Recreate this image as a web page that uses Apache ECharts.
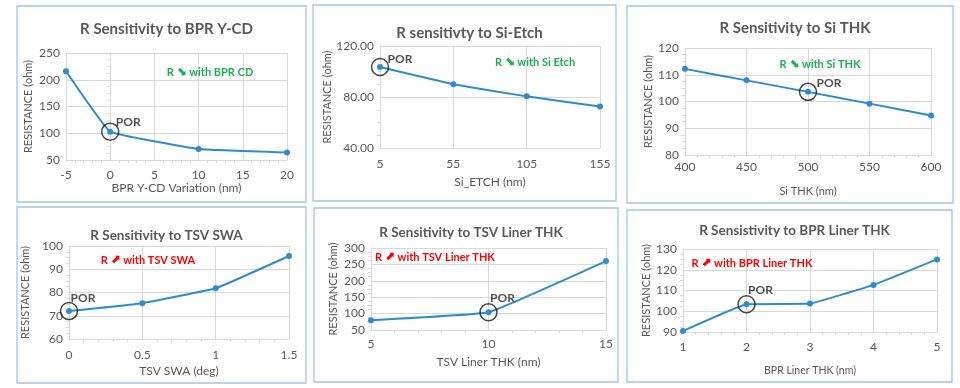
<!DOCTYPE html>
<html><head><meta charset="utf-8">
<script src="https://cdn.jsdelivr.net/npm/echarts@6/dist/echarts.min.js"></script>
<style>html,body{margin:0;padding:0;background:#fff}#c{width:960px;height:388px}</style>
</head><body><div id="c"></div>
<script>
// ---- data ----
const bprYcdX = [-5, 0, 10, 20];
const bprYcdR = [216, 103, 70.5, 64];
const siEtchX = ['5', '55', '105', '155'];
const siEtchR = [103.5, 90, 80.5, 72.5];
const siThkX = [400, 450, 500, 550, 600];
const siThkR = [112.2, 107.9, 103.6, 99.2, 94.8];
const tsvSwaX = [0, 0.5, 1, 1.5];
const tsvSwaR = [72, 75.4, 81.8, 95.7];
const tsvLinerX = [5, 10, 15];
const tsvLinerR = [80, 104, 260];
const bprLinerX = [1, 2, 3, 4, 5];
const bprLinerR = [90.5, 103.4, 103.7, 112.7, 125];
const porX = [0, '5', 500, 0, 10, 2];
const titles = ['R Sensitivity to BPR Y-CD', 'R sensitivty to Si-Etch', 'R Sensitivity to Si THK',
  'R Sensitivity to TSV SWA', 'R Sensitivity to TSV Liner THK', 'R Sensistivity to BPR Liner THK'];
const xNames = ['BPR Y-CD Variation (nm)', 'Si_ETCH (nm)', 'Si THK (nm)', 'TSV SWA (deg)', 'TSV Liner THK (nm)', 'BPR Liner THK (nm)'];
const yName = 'RESISTANCE (ohm)';
const notes = ['with BPR CD', 'with Si Etch', 'with Si THK', 'with TSV SWA', 'with TSV Liner THK', 'with BPR Liner THK'];
const noteUp = [false, false, false, true, true, true];
const yRanges = [[50, 250, 50], [40, 120, 40], [80, 120, 10], [60, 100, 10], [50, 300, 50], [90, 130, 10]];
const xRanges = [[-5, 20, 5], null, [400, 600, 50], [0, 1.5, 0.5], [5, 15, 5], [1, 5, 1]];
const xs = [bprYcdX, siEtchX, siThkX, tsvSwaX, tsvLinerX, bprLinerX];
const ys = [bprYcdR, siEtchR, siThkR, tsvSwaR, tsvLinerR, bprLinerR];

// ---- layout ----
const FONT = 'Lato, "Open Sans", sans-serif';
const panels = [
  {x: 17, y: 6, w: 289, h: 196}, {x: 313, y: 5, w: 303, h: 196}, {x: 627, y: 6, w: 326, h: 197},
  {x: 17, y: 207, w: 289, h: 176}, {x: 314, y: 208, w: 304, h: 174}, {x: 627, y: 210, w: 325, h: 172}
];
const grids = [
  {left: 66, top: 53, width: 221, height: 107},
  {left: 380, top: 46, width: 220, height: 102},
  {left: 685, top: 48, width: 246, height: 107},
  {left: 69, top: 246, width: 220, height: 93},
  {left: 371, top: 248, width: 235, height: 82},
  {left: 683, top: 249, width: 254, height: 83}
];
const titleY = [17, 21, 16, 224, 221, 219];
const titleSize = [15, 15, 15, 13.5, 13.5, 13.5];
const yNameGap = [32, 45, 31, 38, 32, 30];
const xNameGap = [18, 28, 31, 26, 26, 33];
const xNameSize = [12, 12, 11, 12, 12, 10.5];
const xLabelMargin = [9, 10, 6, 10, 8, 9];
const notePos = [[210, 72], [535, 62], [820, 64], [148, 260], [435, 257], [752, 263]];
const porOffset = [[18, -10], [20, -8], [21, -9], [14, -13], [14, -14], [14, -14]];

const LINE = '#2e8bd0';
const GRID = '#d9d9d9';
const TXT = '#595959';

const option = {
  animation: false,
  backgroundColor: '#fff',
  title: [], grid: [], xAxis: [], yAxis: [], series: [], graphic: []
};

for (let i = 0; i < 6; i++) {
  const p = panels[i];
  option.graphic.push({type: 'rect', shape: {x: p.x, y: p.y, width: p.w, height: p.h},
    style: {fill: 'none', stroke: '#9dc8e9', lineWidth: 1.3}, z: -1});
  option.title.push({text: titles[i], left: p.x + p.w / 2, top: titleY[i], textAlign: 'center',
    textStyle: {fontFamily: FONT, fontWeight: 'bold', fontSize: titleSize[i], color: TXT}});
  option.grid.push(Object.assign({containLabel: false}, grids[i]));
  const xr = xRanges[i];
  const xa = {
    gridIndex: i, name: xNames[i], nameLocation: 'middle', nameGap: xNameGap[i],
    nameTextStyle: {fontFamily: FONT, fontSize: xNameSize[i], color: TXT},
    axisLine: {show: true, lineStyle: {color: GRID}},
    axisTick: {show: false},
    axisLabel: {fontFamily: FONT, fontSize: 12, color: TXT, margin: xLabelMargin[i]},
    splitLine: {show: true, lineStyle: {color: GRID}}
  };
  if (xr) {
    Object.assign(xa, {type: 'value', min: xr[0], max: xr[1], interval: xr[2],
      minorTick: {show: true, splitNumber: 5, length: 3, lineStyle: {color: GRID}}});
  } else {
    Object.assign(xa, {type: 'category', data: xs[i], boundaryGap: false});
  }
  option.xAxis.push(xa);
  const yr = yRanges[i];
  option.yAxis.push({
    gridIndex: i, type: 'value', min: yr[0], max: yr[1], interval: yr[2],
    name: yName, nameLocation: 'middle', nameGap: yNameGap[i],
    nameTextStyle: {fontFamily: FONT, fontSize: 11, color: TXT},
    axisLine: {show: true, lineStyle: {color: GRID}},
    axisTick: {show: false},
    minorTick: {show: true, splitNumber: 4, length: 3, lineStyle: {color: GRID}},
    axisLabel: {fontFamily: FONT, fontSize: 12, color: TXT, margin: 6,
      formatter: i === 1 ? (v) => v.toFixed(2) : null},
    splitLine: {show: true, lineStyle: {color: GRID}}
  });
  const data = xr ? xs[i].map((x, k) => [x, ys[i][k]]) : ys[i].slice();
  option.series.push({
    type: 'line', xAxisIndex: i, yAxisIndex: i, data: data, smooth: 0.08,
    symbol: 'circle', symbolSize: 6, lineStyle: {color: LINE, width: 2},
    itemStyle: {color: LINE}, clip: false
  });
  const pk = xs[i].indexOf(porX[i]);
  option.series.push({
    type: 'scatter', xAxisIndex: i, yAxisIndex: i,
    data: [[porX[i], ys[i][pk]]],
    symbol: 'circle', symbolSize: 17, clip: false, z: 5,
    itemStyle: {color: 'rgba(0,0,0,0)', borderColor: '#1a1a1a', borderWidth: 1.5},
    label: {show: true, formatter: 'POR', position: 'inside', offset: porOffset[i],
      fontFamily: FONT, fontWeight: 'bold', fontSize: 12, color: '#262626'}
  });
  const np = notePos[i];
  const col = noteUp[i] ? '#ff0000' : '#19b04f';
  option.graphic.push({type: 'text', x: np[0], y: np[1], z: 10,
    style: {text: '{t|R }{a|' + (noteUp[i] ? '\u2B08' : '\u2B0A') + '}{t| ' + notes[i] + '}',
      fill: col, align: 'center', verticalAlign: 'middle',
      rich: {
        t: {fontFamily: FONT, fontWeight: 'bold', fontSize: 11, fill: col},
        a: {fontFamily: '"DejaVu Sans"', fontWeight: 'bold', fontSize: 12, fill: col}
      }}});
}

const chart = echarts.init(document.getElementById('c'), null, {renderer: 'canvas'});
chart.setOption(option);
</script>
</body></html>
